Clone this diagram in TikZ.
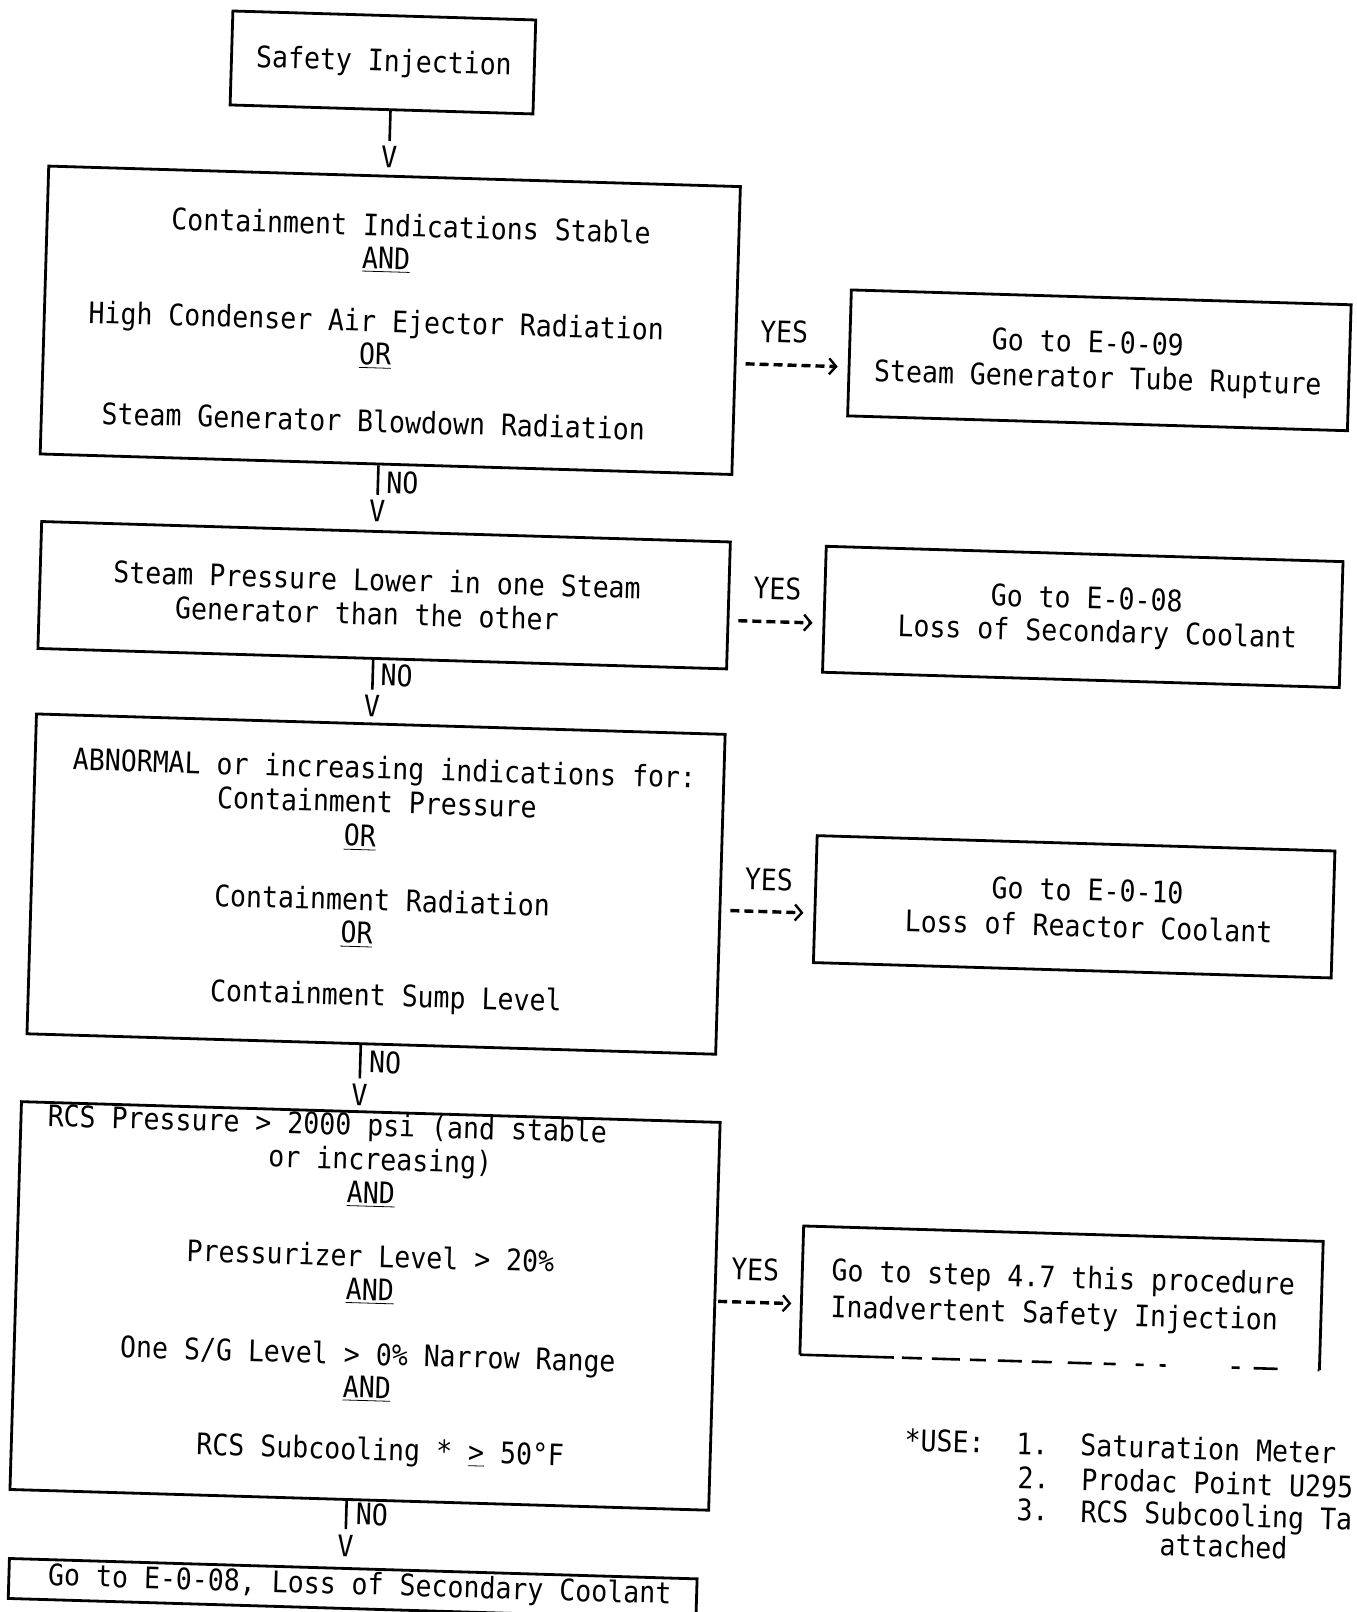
\documentclass[tikz,border=0pt]{standalone}
\usepackage{fontspec}
\newfontfamily\tw[FakeStretch=0.897]{DejaVu Sans Mono}
\usetikzlibrary{arrows.meta}
\begin{document}
\begin{tikzpicture}[x=0.5pt,y=-0.5pt,
  txt/.style={font=\tw\fontsize{14.8pt}{17pt}\selectfont, inner sep=0pt, text height=10.8pt, text depth=0pt},
  box/.style={draw, line width=1.4pt, inner sep=0pt},
  conn/.style={line width=1.3pt, shorten >=2.5pt},
  yesarrow/.style={line width=1.7pt, dash pattern=on 4.5pt off 2.5pt,
     -{Straight Barb[length=3.5pt, width=8pt, line width=1.2pt]},
     shorten <=4.5pt, shorten >=5pt}]
\useasboundingbox (0,0) rectangle (1356,1612);
\clip (0,0) rectangle (1356,1612);
\fill[white] (0,0) rectangle (1356,1612);
\begin{scope}[rotate around={-1.7:(678,806)}, every node/.append style={transform shape}]
% ---------- boxes
\node[box, minimum width=151.5pt, minimum height=47pt] (si) at (361,71.5) {};
\node[box, minimum width=346pt, minimum height=144pt] (b2) at (376,329) {};
\node[box, minimum width=250pt, minimum height=63pt] (e09) at (1086,348) {};
\node[box, minimum width=344.5pt, minimum height=63.5pt] (b3) at (378,604) {};
\node[box, minimum width=258.5pt, minimum height=63pt] (e08) at (1077,605) {};
\node[box, minimum width=344.5pt, minimum height=160pt] (b4) at (378.5,893) {};
\node[box, minimum width=259pt, minimum height=63.5pt] (e10) at (1077,895) {};
\node[box, minimum width=349.5pt, minimum height=194pt] (b5) at (380,1315) {};
\node[inner sep=0pt, minimum width=259.5pt, minimum height=64pt] (e47) at (1076,1286.5) {};
\draw[line width=1.4pt] (e47.south west) -- (e47.north west) -- (e47.north east) -- (e47.south east);
\draw[line width=1.3pt, dash pattern=on 47pt off 4pt on 10pt off 5pt on 14pt off 5pt on 8pt off 6pt on 12pt off 5pt on 10pt off 8pt on 12pt off 6pt on 6pt off 10pt on 4pt off 8pt on 3pt off 33pt on 4pt off 7pt on 12pt off 20pt]
  (e47.south west) -- (e47.south east);
\node[box, minimum width=344pt, minimum height=20pt] (b6) at (376,1598) {};
% ---------- texts
\node[txt] (sit) at (362,69.4) {Safety Injection};

\node[txt] (b2a) at (394,234) {Containment Indications Stable};
\node[txt] (b2b) at (370,267) {\underline{AND}};
\node[txt] (b2c) at (362,330) {High Condenser Air Ejector Radiation};
\node[txt] (b2d) at (362,363) {\underline{OR}};
\node[txt] (b2e) at (362,430.5) {Steam Generator Blowdown Radiation};

\node[txt] (e09a) at (1074,330) {Go to E-0-09};
\node[txt] (e09b) at (1085,365) {Steam Generator Tube Rupture};

\node[txt] (b3a) at (370.6,589) {Steam Pressure Lower in one Steam};
\node[txt] (b3b) at (361.3,623) {Generator than the other};

\node[txt] (e08a) at (1080.4,586) {Go to E-0-08};
\node[txt] (e08b) at (1092,619) {Loss of Secondary Coolant};

\node[txt] (b4a) at (383.5,777) {ABNORMAL or increasing indications for:};
\node[txt] (b4b) at (377,811) {Containment Pressure};
\node[txt] (b4c) at (361,845) {\underline{OR}};
\node[txt] (b4d) at (385,909) {Containment Radiation};
\node[txt] (b4e) at (360.5,942) {\underline{OR}};
\node[txt] (b4f) at (391.6,1004) {Containment Sump Level};

\node[txt] (e10a) at (1090,878) {Go to E-0-10};
\node[txt] (e10b) at (1092,914) {Loss of Reactor Coolant};

\node[txt] (b5a) at (337,1134) {RCS Pressure > 2000 psi (and stable};
\node[txt] (b5b) at (391,1168) {or increasing)};
\node[txt] (b5c) at (382.6,1201.6) {\underline{AND}};
\node[txt] (b5d) at (384,1265) {Pressurizer Level > 20\%};
\node[txt] (b5e) at (384.4,1298.5) {\underline{AND}};
\node[txt] (b5f) at (384.3,1363) {One S/G Level > 0\% Narrow Range};
\node[txt] (b5g) at (384.2,1396) {\underline{AND}};
\node[txt] (b5h) at (399.5,1458) {RCS Subcooling * \underline{>} 50°F};

\node[txt, anchor=west] (e47a) at (845,1265.4) {Go to step 4.7 this procedure};
\node[txt, anchor=west] (e47b) at (845,1301.6) {Inadvertent Safety Injection};

\node[txt] (b6a) at (383,1593) {Go to E-0-08, Loss of Secondary Coolant};

% ---------- footnote
\node[txt, anchor=west] (fn1) at (923,1433) {*USE:\ \ 1.\ \ Saturation Meter};
\node[txt, anchor=west] (fn2) at (1037,1467) {2.\ \ Prodac Point U295};
\node[txt, anchor=west] (fn3) at (1037,1499) {3.\ \ RCS Subcooling Ta};
\node[txt, anchor=west] (fn4) at (1181,1530) {attached};

% ---------- downward connectors
\node[txt] (v1) at (370,166) {V};
\node[txt] (v2) at (368.5,520) {V};
\node[txt] (v3) at (369,715) {V};
\node[txt] (v4) at (368,1104) {V};
\node[txt] (v5) at (367.4,1555) {V};
\node[txt] (n2) at (393,491) {NO};
\node[txt] (n3) at (393,684) {NO};
\node[txt] (n4) at (393,1071) {NO};
\node[txt] (n5) at (393,1523) {NO};
\draw[conn] (si.south -| v1) -- (v1.north);
\draw[conn] (b2.south -| v2) -- (v2.north);
\draw[conn] (b3.south -| v3) -- (v3.north);
\draw[conn] (b4.south -| v4) -- (v4.north);
\draw[conn] (b5.south -| v5) -- (v5.north);

% ---------- YES connectors
\coordinate (a1) at (770,362);
\coordinate (a2) at (770,619);
\coordinate (a3) at (770,909);
\coordinate (a4) at (770,1300);
\node[txt] (y1) at (770,329) {YES};
\node[txt] (y2) at (771,586) {YES};
\node[txt] (y3) at (771,877) {YES};
\node[txt] (y4) at (769,1267) {YES};
\draw[yesarrow] (b2.east |- a1) -- (e09.west |- a1);
\draw[yesarrow] (b3.east |- a2) -- (e08.west |- a2);
\draw[yesarrow] (b4.east |- a3) -- (e10.west |- a3);
\draw[yesarrow, shorten <=1pt] (b5.east |- a4) -- (e47.west |- a4);
\end{scope}
\end{tikzpicture}
\end{document}
